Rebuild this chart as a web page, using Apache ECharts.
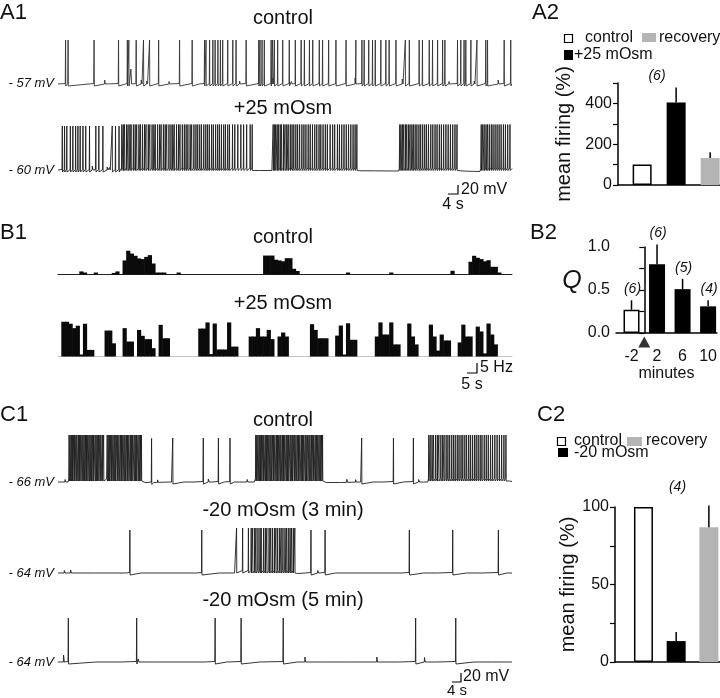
<!DOCTYPE html>
<html><head><meta charset="utf-8">
<script src="https://cdn.jsdelivr.net/npm/echarts@6/dist/echarts.min.js"></script>
<style>html,body{margin:0;padding:0;background:#fff}#c{width:720px;height:698px}</style>
</head><body><div id="c"></div>
<script>
// ---------------- DATA ----------------
// A1 traces: time (s), membrane potential (mV)
const a1CtrlBreaks = [[0,-57],[180,-57]];
const a1CtrlSpikes = [3.0,4.0,14.3,24.0,27.5,28.1,31.0,33.9,36.3,39.9,48.2,53.2,58.1,58.7,60.1,61.4,62.3,63.4,64.4,65.3,67.3,69.3,70.6,74.6,79.6,80.1,80.9,81.8,84.5,85.1,85.8,87.1,89.1,91.7,94.1,96.4,97.7,99.7,101.0,103.6,104.9,107.3,110.2,114.2,118.1,120.5,121.4,123.2,124.7,125.8,128.0,130.0,131.3,134.0,137.7,139.3,143.2,144.5,147.2,148.5,150.5,152.5,153.4,158.4,159.7,161.0,161.7,163.7,166.1,169.6,170.3,176.9,179.5];
const a1CtrlSmall = [[18.5,8],[28.9,30],[33.0,8],[35.2,6],[44,5],[56,4],[72,6],[85.2,12],[92.5,5],[117.8,12],[136.5,10],[155,5],[165,6],[174.5,8]];

const a1OsmBreaks = [[0,-60],[24.8,-60],[25.2,-57],[77.2,-57],[78,-61],[84.8,-61],[85.1,-57],[118.8,-57],[119.6,-61.5],[135,-62],[135.3,-57],[158.4,-57],[159,-62],[167.3,-63],[167.6,-57],[180,-57]];
const a1OsmSpikes = [1.7,2.6,3.5,4.9,5.9,7.0,7.9,8.8,9.9,11.0,12.5,15.0,16.2,17.8,21.5,22.8,24.2,
 25.3,25.9,26.4,27.2,27.8,28.5,29.0,29.9,30.6,31.2,32.1,32.7,33.5,34.3,34.9,35.8,36.4,37.3,38.0,38.6,39.5,40.3,40.9,41.8,42.5,43.1,44.0,44.8,45.5,46.1,47.0,47.8,48.4,49.3,50.1,50.8,51.5,52.4,53.0,53.9,54.7,55.4,56.2,56.9,57.8,58.6,59.3,60.0,60.9,61.6,62.5,63.3,64.0,64.8,65.7,66.4,67.3,68.0,69.2,70.1,71.3,72.5,73.6,74.8,76.2,77.0,
 85.3,85.8,86.3,86.9,87.4,88.1,88.6,89.4,90.0,90.7,91.3,92.1,92.8,93.5,94.3,95.0,95.8,96.7,97.5,98.3,99.2,100.0,100.9,101.8,102.6,103.5,104.2,105.1,106.0,106.8,107.9,108.9,109.7,110.8,111.6,112.5,113.4,114.3,115.2,116.1,117.0,117.8,118.5,
 135.5,136.0,136.6,137.1,137.8,138.3,139.0,139.6,140.3,140.9,141.6,142.3,143.1,143.8,144.6,145.4,146.1,146.9,147.8,148.6,149.5,150.3,151.2,152.0,152.9,153.8,154.7,155.6,156.5,157.4,158.2,
 167.8,168.4,169.0,169.7,170.3,171.0,171.8,172.5,173.3,174.1,174.9,175.7,176.6,177.4,178.3,179.2];
const a1OsmSmall = [[13.6,8],[19.5,6],[20.4,5],[80,3],[126,3],[162,3]];

// B1 spike-frequency histograms (Hz), groups of [first bin, values]
const histBinCount = 126;
const b1CtrlHist = [[6,[1.4,0.9]],[10,[0.9]],[15,[0.7,1.4]],[18,[6.4,10.8,9.5,8.5,7.3,7.0,8.0,8.8,5.0,0.9,0.9,0.9]],[33,[0.9]],[57,[8.6,8.6,8.6,6.7,6.4,6.0,7.4,7.4,2.6,1.6]],[80,[0.9]],[92,[0.9]],[109,[1.7]],[114,[5.8,8.5,7.6,7.0,6.0,6.5,3.5,3.5,0.9]]];
const b1OsmHist = [[1,[15.8,15.8,14.9,12.9,14.0,0.9,14.9,3.0,3.0]],[13,[11.8,11.8,6.0]],[18,[12.9,6.8,6.8]],[22,[12.1,9.4,7.9,7.9,3.8]],[28,[14.4,8.3,8.3]],[39,[12.7,12.7,15.5,1.1,15.0,3.2,3.2,3.2,15.5,4.5,4.5]],[53,[9.1,9.1,12.9,9.1,9.1,12.1,7.9]],[61,[9.1,10.9,9.1]],[70,[14.7,12.1,8.3,8.3,8.3]],[77,[9.5,14.1,0.9,15.1,7.6,7.6]],[88,[9.1,15.5,10.0,10.0,15.5,5.5,5.5]],[97,[15.0,9.1,5.5]],[103,[14.5,9.1,2.7,10.0,7.3,7.3]],[111,[6.4,14.5,9.1,9.1]],[116,[13.6,11.4,1.4,15.0,10.0,5.5]]];

// C1 traces
const c1CtrlBreaks = [[0,-66],[4.0,-66],[4.4,-60],[18.2,-60],[18.7,-64],[19.3,-60],[33.3,-60],[34.5,-67],[38,-67],[45,-66],[77.8,-66],[78.3,-60],[105.2,-60],[106.4,-67],[112,-67],[120,-66],[146.6,-66],[147,-60],[177.9,-60],[179,-64],[180,-65]];
const c1CtrlSpikes = [4.4,4.8,5.3,5.7,6.2,6.6,7.1,7.5,8.1,8.5,9.0,9.5,9.9,10.4,10.9,11.3,11.8,12.3,12.7,13.2,13.7,14.1,14.7,15.1,15.6,16.1,16.6,17.0,17.6,18.1,19.5,19.9,20.4,20.9,21.3,21.8,22.3,22.7,23.3,23.7,24.2,24.8,25.2,25.7,26.2,26.6,27.2,27.6,28.1,28.7,29.1,29.6,30.2,30.6,31.1,31.7,32.2,32.7,33.1,
 37.1,45.5,57.6,63.6,68.2,
 78.4,78.8,79.3,79.8,80.2,80.7,81.2,81.6,82.2,82.6,83.1,83.6,84.1,84.5,85.1,85.5,86.0,86.6,87.0,87.5,88.0,88.4,89.0,89.4,89.9,90.5,90.9,91.4,92.0,92.4,92.9,93.5,93.9,94.4,95.0,95.4,95.9,96.5,96.9,97.4,98.0,98.4,99.0,99.5,99.9,100.5,101.0,101.4,102.0,102.5,103.0,103.5,104.0,104.5,104.9,
 120.4,133.0,140.9,
 147.0,147.6,148.3,148.9,149.7,150.4,151.0,151.8,152.5,153.1,153.9,154.6,155.3,156.1,156.8,157.5,158.3,159.0,159.8,160.5,161.3,162.0,162.8,163.5,164.3,165.1,165.8,166.6,167.4,168.1,169.0,169.8,170.6,171.5,172.3,173.2,174.1,175.0,175.9,176.8,177.6];
const c1CtrlSmall = [[1.5,4],[2.8,5],[35.0,4],[39.5,5],[41,3],[50,4],[54,3],[59.6,6],[61,4],[66,3],[70,4],[72,3],[73.5,4],[75,5],[76.5,4],[112,4],[114.5,6],[118,5],[125,4],[129,3],[137,4],[143,5],[145,3]];

const c1Min3Breaks = [[0,-64],[70,-64],[70.5,-60],[94.2,-60],[95,-65],[98,-64],[180,-64]];
const c1Min3Spikes = [28.5,57.0,70.8,73.2,75.5,76.6,77.2,78.0,78.5,79.3,80.1,80.6,81.5,82.2,82.8,83.7,84.3,85.0,85.8,86.4,87.1,87.9,88.5,89.2,90.0,90.6,91.3,92.0,92.6,93.3,93.9,100.3,105.9,139.3,156.5,174.6];
const c1Min3Small = [[2.5,5],[5,6],[10,3],[15,3],[23,3],[27,4],[33,3],[40,3],[45,4],[50,3],[55,4],[64,3],[103,5],[110,3],[118,4],[125,3],[131,4],[136,3],[145,3],[150,4],[162,3],[168,4],[178,3]];

const c1Min5Breaks = [[0,-64],[180,-64]];
const c1Min5Spikes = [4.1,31.2,62.3,72.6,89.3,141.8,157.7];
const c1Min5Small = [[2.2,14],[15,3],[25,4],[31.8,6],[40,3],[50,4],[58,3],[67,4],[80,3],[95,3],[97.9,10],[105,4],[115,3],[126.4,10],[135,4],[145.3,9],[150,4],[165,3],[172,4],[178,3]];

// A2 bar chart (mean firing %, n = 6)
const a2Groups = ['control','+25 mOsm','recovery'];
const a2Mean = [100, 405, 132];
const a2Err = [0, 73, 28];
const a2Ticks = [0,100,200,300,400,500];
const a2Labels = [0,200,400];

// B2 (Q vs minutes)
const b2Minutes = [-2, 2, 6, 10];
const b2Q = [0.27, 0.80, 0.51, 0.31];
const b2Err = [0.11, 0.23, 0.12, 0.07];
const b2N = ['(6)','(6)','(5)','(4)'];
const b2Onset = [0];
const b2Ticks = [0,0.25,0.5,0.75,1.0];
const b2Labels = [0,0.5,1.0];

// C2 bar chart (mean firing %, n = 4)
const c2Groups = ['control','-20 mOsm','recovery'];
const c2Mean = [100, 13.5, 87];
const c2Err = [0, 5.9, 14];
const c2Ticks = [0,25,50,75,100];
const c2Labels = [0,50,100];

// ---------------- BUILD ----------------
const FONT = '"Liberation Sans", Arial, sans-serif';
const INK = '#111';
const styleOf = {
  'control': {color:'#fff', borderColor:'#000', borderWidth:1.5},
  '+25 mOsm': {color:'#000'},
  '-20 mOsm': {color:'#000'},
  'recovery': {color:'#b4b4b4'}
};

function baseAt(br, t){
  if (t <= br[0][0]) return br[0][1];
  for (let i=0;i<br.length-1;i++){
    const a=br[i], b=br[i+1];
    if (t>=a[0] && t<=b[0]) return a[1] + (b[1]-a[1])*(t-a[0])/((b[0]-a[0])||1);
  }
  return br[br.length-1][1];
}
function buildTrace(br, spikes, amp, small){
  const pts = br.map(p=>[p[0],p[1]]);
  spikes.forEach(t=>{ const b=baseAt(br,t); pts.push([t-0.12,b+1],[t,b+amp],[t+0.08,b-4],[t+0.35,b]); });
  small.forEach(([t,h])=>{ const b=baseAt(br,t); pts.push([t-0.06,b],[t,b+h],[t+0.3,b]); });
  pts.sort((p,q)=>p[0]-q[0]);
  return pts;
}
function buildHist(groups){
  const arr = new Array(histBinCount).fill(0);
  groups.forEach(([s,vals])=>vals.forEach((v,k)=>{arr[s+k]=v;}));
  return arr.map((v,k)=>[k,v]);
}

const grids=[], xAxes=[], yAxes=[], series=[];
function addGrid(g,xa,ya){ grids.push(g); const i=grids.length-1; xa.gridIndex=i; ya.gridIndex=i; xAxes.push(xa); yAxes.push(ya); return i; }

function addTrace(top,height,ymin,ymax,data,color){
  const i = addGrid({left:58,top:top,width:454,height:height},
    {type:'value',min:0,max:180,show:false},
    {type:'value',min:ymin,max:ymax,show:false});
  series.push({type:'line',xAxisIndex:i,yAxisIndex:i,data:data,symbol:'none',silent:true,
    lineStyle:{width:0.9,color:color||'#1e1e1e'}});
}
addTrace(35,55,-69,41,buildTrace(a1CtrlBreaks,a1CtrlSpikes,88,a1CtrlSmall),'#333');
addTrace(122,55,-74,36,buildTrace(a1OsmBreaks,a1OsmSpikes,88,a1OsmSmall));
addTrace(430,55,-72,38,buildTrace(c1CtrlBreaks,c1CtrlSpikes,88,c1CtrlSmall));
addTrace(520,56,-70,42,buildTrace(c1Min3Breaks,c1Min3Spikes,86,c1Min3Small));
addTrace(610,55,-70,40,buildTrace(c1Min5Breaks,c1Min5Spikes,88,c1Min5Small));

function addHist(top,height,ymax,groups,lineColor){
  const i = addGrid({left:58,top:top,width:454,height:height},
    {type:'value',min:0,max:histBinCount,axisLine:{show:true,onZero:false,lineStyle:{color:lineColor,width:1}},axisTick:{show:false},axisLabel:{show:false},splitLine:{show:false}},
    {type:'value',min:0,max:ymax,show:false});
  series.push({type:'custom',xAxisIndex:i,yAxisIndex:i,silent:true,z:3,data:buildHist(groups),
    renderItem:function(params,api){
      const k=api.value(0), v=api.value(1);
      if (!(v>0)) return null;
      const p0=api.coord([k,0]), p1=api.coord([k+1,v]);
      return {type:'rect',shape:{x:p0[0]-0.3,y:p1[1],width:p1[0]-p0[0]+0.6,height:p0[1]-p1[1]},style:{fill:'#0a0a0a'}};
    }});
}
addHist(245,29.5,13.4,b1CtrlHist,'#222');
addHist(320,36.5,16.6,b1OsmHist,'#c4c4c4');

// bar chart with error bars
function errRender(params, api){
  const x=api.value(0), v=api.value(1), e=api.value(2);
  if (!(e>0)) return null;
  const p1=api.coord([x,v]), p2=api.coord([x,v+e]);
  return {type:'line',shape:{x1:p1[0],y1:p1[1],x2:p2[0],y2:p2[1]},style:{stroke:'#000',lineWidth:1.5}};
}
function yAxisBar(min,max,ticks,labels,fmt,name,gap){
  return {type:'value',min:min,max:max,
    axisLine:{show:true,lineStyle:{color:'#000',width:1.5}},
    axisTick:{show:true,customValues:ticks,length:5,lineStyle:{color:'#000',width:1.2}},
    axisLabel:{customValues:labels,formatter:fmt,fontSize:16,fontFamily:FONT,color:INK,margin:6},
    splitLine:{show:false},
    name:name,nameLocation:'middle',nameGap:gap,nameRotate:90,
    nameTextStyle:{fontSize:20,fontFamily:FONT,color:INK}};
}
function addBarPanel(grid,xmin,xmax,ymin,ymax,ticks,labels,fmt,name,gap,groups,means,errs,barW){
  const i = addGrid(grid,
    {type:'value',min:xmin,max:xmax,axisLine:{show:true,onZero:false,lineStyle:{color:'#000',width:1.5}},axisTick:{show:false},axisLabel:{show:false},splitLine:{show:false}},
    yAxisBar(ymin,ymax,ticks,labels,fmt,name,gap));
  series.push({type:'bar',xAxisIndex:i,yAxisIndex:i,barWidth:barW,silent:true,
    data:groups.map((g,k)=>({value:[k+1,means[k]],itemStyle:styleOf[g]}))});
  series.push({type:'custom',xAxisIndex:i,yAxisIndex:i,silent:true,z:3,renderItem:errRender,
    data:groups.map((g,k)=>[k+1,means[k],errs[k]])});
  return i;
}
addBarPanel({left:618,top:83,width:102,height:102},0.29,3.29,0,500,a2Ticks,a2Labels,v=>String(v),'mean firing (%)',44,a2Groups,a2Mean,a2Err,19);
addBarPanel({left:615,top:507,width:105,height:155},0.13,3.34,0,100,c2Ticks,c2Labels,v=>String(v),'mean firing (%)',30,c2Groups,c2Mean,c2Err,19);

// B2
const b2i = addGrid({left:616,top:247,width:104,height:86},
  {type:'value',min:-4.43,max:11.37,axisLine:{show:true,onZero:false,lineStyle:{color:'#000',width:1.5}},axisTick:{show:false},
   axisLabel:{customValues:b2Minutes,fontSize:16,fontFamily:FONT,color:INK,margin:16},splitLine:{show:false},
   name:'minutes',nameLocation:'middle',nameGap:31,nameTextStyle:{fontSize:16,fontFamily:FONT,color:INK}},
  yAxisBar(0,1,b2Ticks,b2Labels,v=>Number(v).toFixed(1),'',0));
series.push({type:'bar',xAxisIndex:b2i,yAxisIndex:b2i,barWidth:16,silent:true,
  data:b2Minutes.map((m,k)=>({value:[m,b2Q[k]],itemStyle:k===0?styleOf['control']:{color:'#000'}}))});
series.push({type:'custom',xAxisIndex:b2i,yAxisIndex:b2i,silent:true,z:3,
  renderItem:function(params,api){
    const x=api.value(0), v=api.value(1), e=api.value(2);
    const p1=api.coord([x,v]), p2=api.coord([x,v+e]);
    const k=params.dataIndex;
    return {type:'group',children:[
      {type:'line',shape:{x1:p1[0],y1:p1[1],x2:p2[0],y2:p2[1]},style:{stroke:'#000',lineWidth:1.5}},
      {type:'text',style:{text:b2N[k],x:p2[0]+1,y:p2[1]-4,align:'center',verticalAlign:'bottom',font:'italic 14px '+FONT,fill:INK}}
    ]};
  },
  data:b2Minutes.map((m,k)=>[m,b2Q[k],b2Err[k]])});
series.push({type:'scatter',xAxisIndex:b2i,yAxisIndex:b2i,silent:true,clip:false,symbol:'triangle',symbolSize:[12,11],
  itemStyle:{color:'#000'},data:b2Onset.map(t=>[t,-0.105])});

// ---------------- GRAPHICS (text, legends, scale bars) ----------------
const g=[];
function txt(s,x,y,size,opt){ opt=opt||{}; g.push({type:'text',silent:true,style:{text:s,x:x,y:y,
  font:(opt.italic?'italic ':'')+size+'px '+FONT,fill:INK,align:opt.align||'left',verticalAlign:opt.va||'middle'}}); }
function rect(x,y,w,h,fill,stroke){ g.push({type:'rect',silent:true,shape:{x:x,y:y,width:w,height:h},style:{fill:fill,stroke:stroke||null,lineWidth:stroke?1.2:0}}); }
function pline(pts){ g.push({type:'polyline',silent:true,shape:{points:pts},style:{stroke:'#000',lineWidth:1.2,fill:null}}); }

// panel labels
txt('A1',0,13,22); txt('A2',532,13,22);
txt('B1',0,233,22); txt('B2',530,233,22);
txt('C1',0,415,22); txt('C2',537,415,22);
// trace titles
txt('control',283,18,20,{align:'center'});
txt('+25 mOsm',283,108,20,{align:'center'});
txt('control',283,237,20,{align:'center'});
txt('+25 mOsm',283,303,20,{align:'center'});
txt('control',283,420,20,{align:'center'});
txt('-20 mOsm (3 min)',283,510,20,{align:'center'});
txt('-20 mOsm (5 min)',283,600,20,{align:'center'});
// potential labels
txt('- 57 mV',54,83,13,{align:'right',italic:true});
txt('- 60 mV',54,170,13,{align:'right',italic:true});
txt('- 66 mV',54,482,13,{align:'right',italic:true});
txt('- 64 mV',54,573,13,{align:'right',italic:true});
txt('- 64 mV',54,662,13,{align:'right',italic:true});
// scale bars
pline([[448,194],[458,194],[458,185]]); txt('20 mV',461,190,16); txt('4 s',453,205,16,{align:'center'});
pline([[467,373],[477,373],[477,363]]); txt('5 Hz',480,368,16); txt('5 s',472,385,16,{align:'center'});
pline([[452,682],[461,682],[461,673]]); txt('20 mV',463,677,16); txt('4 s',457,691,15,{align:'center'});
// A2 legend
rect(564.5,34.5,8,8,'#fff','#000'); txt('control',585,38,16);
rect(642,33,14,9,'#b4b4b4'); txt('recovery',659,38,16);
rect(564,50,9,10,'#000'); txt('+25 mOsm',574,55,16);
txt('(6)',657,76,14,{align:'center',italic:true});
// C2 legend
rect(557.5,437.5,8,8,'#fff','#000'); txt('control',574,441,16);
rect(627,437,15,9,'#b4b4b4'); txt('recovery',646,441,16);
rect(558,448,10,9,'#000'); txt('-20 mOsm',574,453,16);
txt('(4)',677.5,487,14,{align:'center',italic:true});
// B2 axis name
txt('Q',572,281,25,{align:'center',italic:true});

const chart = echarts.init(document.getElementById('c'),null,{renderer:'canvas'});
chart.setOption({animation:false,backgroundColor:'#fff',grid:grids,xAxis:xAxes,yAxis:yAxes,series:series,graphic:g});
</script></body></html>
